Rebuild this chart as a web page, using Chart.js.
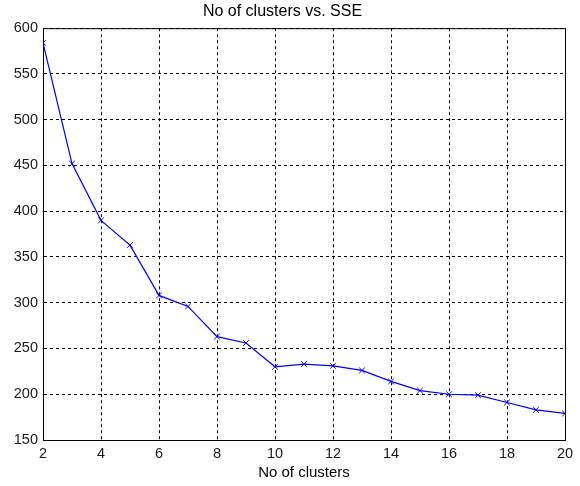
<!DOCTYPE html>
<html lang="en">
  <head>
    <meta charset="UTF-8" />
    <title>No of clusters vs. SSE</title>
    <script src="https://cdn.jsdelivr.net/npm/chart.js"></script>
    <style>
      body {
        margin: 0;
        background-color: #ffffff;
      }
      .chart-container {
        width: 580px;
        height: 486px;
      }
    </style>
  </head>
  <body>
    <div class="chart-container">
      <canvas id="sseChart"></canvas>
    </div>

    <script>
      // Data
      const clusters = [2, 3, 4, 5, 6, 7, 8, 9, 10, 11, 12, 13, 14, 15, 16, 17, 18, 19, 20];
      const sse = [584, 452, 390, 363, 308, 296, 263, 256, 230, 233, 231, 226, 214, 204, 200, 199, 191, 183, 179];
      const xTicks = [2, 4, 6, 8, 10, 12, 14, 16, 18, 20];
      const yTicks = [150, 200, 250, 300, 350, 400, 450, 500, 550, 600];

      const fontFamily = "Arial, 'Liberation Sans', sans-serif";
      const textColor = "#1a1a1a";

      // top and right edges of the axes box
      const boxPlugin = {
        id: "box",
        afterDraw(chart) {
          const { ctx, chartArea } = chart;
          ctx.save();
          ctx.strokeStyle = "#000000";
          ctx.lineWidth = 1;
          ctx.beginPath();
          ctx.moveTo(chartArea.left, chartArea.top + 0.5);
          ctx.lineTo(chartArea.right + 0.5, chartArea.top + 0.5);
          ctx.lineTo(chartArea.right + 0.5, chartArea.bottom);
          ctx.stroke();
          ctx.restore();
        },
      };

      const ctx = document.getElementById("sseChart").getContext("2d");
      new Chart(ctx, {
        type: "line",
        data: {
          datasets: [
            {
              label: "SSE",
              data: clusters.map((k, i) => ({ x: k, y: sse[i] })),
              borderColor: "#0000ff",
              borderWidth: 1.2,
              tension: 0,
              fill: false,
              pointStyle: "crossRot",
              pointRadius: 4,
              pointBorderColor: "#0000ff",
              pointBorderWidth: 1,
            },
          ],
        },
        options: {
          responsive: true,
          maintainAspectRatio: false,
          animation: false,
          layout: {
            padding: { left: 0, right: 15, top: 0, bottom: 0 },
          },
          plugins: {
            legend: { display: false },
            tooltip: { enabled: false },
            title: {
              display: true,
              text: "No of clusters vs. SSE",
              color: "#000000",
              font: { family: fontFamily, size: 16, weight: "normal" },
              padding: { top: 2, bottom: 7 },
            },
          },
          scales: {
            x: {
              type: "linear",
              min: 2,
              max: 20,
              afterFit(scale) {
                scale.height = 46;
              },
              afterBuildTicks(scale) {
                scale.ticks = xTicks.map((v) => ({ value: v }));
              },
              ticks: {
                color: textColor,
                padding: 5,
                maxRotation: 0,
                font: { family: fontFamily, size: 14.5 },
              },
              grid: {
                color: "#000000",
                lineWidth: 1,
                drawTicks: false,
              },
              border: {
                display: true,
                color: "#000000",
                dash: [3, 3],
              },
              title: {
                display: true,
                text: "No of clusters",
                color: "#000000",
                font: { family: fontFamily, size: 15 },
                padding: { top: 0, bottom: 4 },
              },
            },
            y: {
              type: "linear",
              min: 150,
              max: 600,
              afterFit(scale) {
                scale.width = 43;
              },
              afterBuildTicks(scale) {
                scale.ticks = yTicks.map((v) => ({ value: v }));
              },
              ticks: {
                color: textColor,
                padding: 5,
                font: { family: fontFamily, size: 14.5 },
              },
              grid: {
                color: "#000000",
                lineWidth: 1,
                drawTicks: false,
              },
              border: {
                display: true,
                color: "#000000",
                dash: [3, 3],
              },
            },
          },
        },
        plugins: [boxPlugin],
      });
    </script>
  </body>
</html>
